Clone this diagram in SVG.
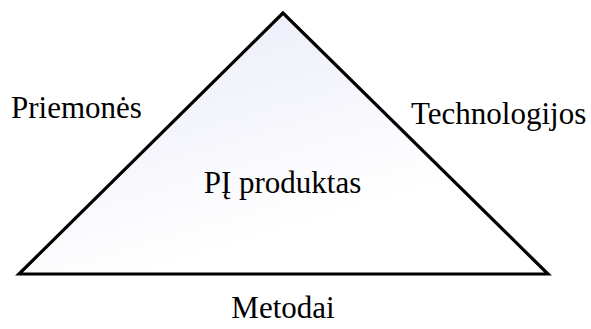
<svg xmlns="http://www.w3.org/2000/svg" width="591" height="329" viewBox="0 0 591 329">
<style>
text{font-family:"Liberation Serif","Times New Roman",serif;font-size:31px;fill:#000}
.tri{stroke:#000;stroke-width:3.2;stroke-linejoin:miter}
</style>
<defs>
<linearGradient id="g" x1="0.2" y1="0" x2="0.8" y2="1">
<stop offset="0" stop-color="#eaecf8"/>
<stop offset="0.75" stop-color="#ffffff"/>
</linearGradient>
</defs>
<rect width="591" height="329" fill="#fff"/>
<g id="triangle">
<polygon class="tri" points="283,13 19,274 548,274" fill="url(#g)"/>
</g>
<g id="label-priemones"><text x="11" y="118">Priemonės</text></g>
<g id="label-technologijos"><text x="411" y="124">Technologijos</text></g>
<g id="label-produktas"><text x="282.5" y="193" text-anchor="middle">PĮ produktas</text></g>
<g id="label-metodai"><text x="283" y="318" text-anchor="middle">Metodai</text></g>
</svg>
